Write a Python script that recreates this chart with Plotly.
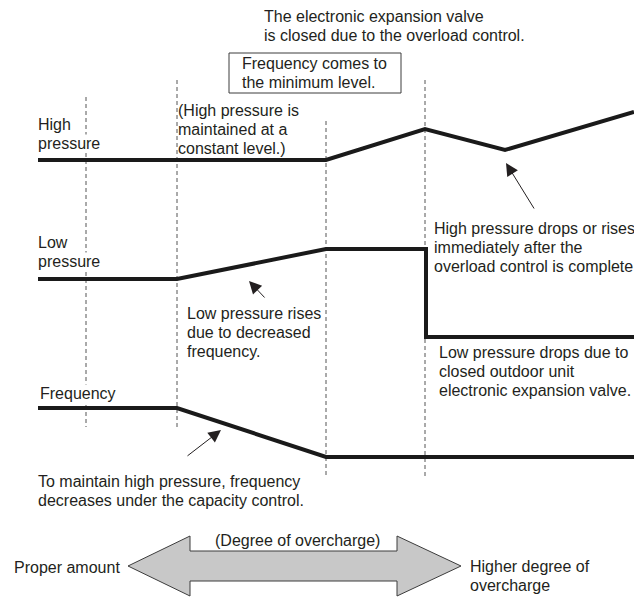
#!/usr/bin/env python3
"""
Overcharge behaviour diagram

Draws high pressure, low pressure and compressor frequency against the
degree of refrigerant overcharge, with the notes from the service manual.
Everything is placed on a 634 x 597 canvas-sized axis (y grows downwards).
"""
import plotly.graph_objects as go

# Curves (canvas units, y downwards)
hp_x = [38, 326, 425, 505, 634]
hp_y = [160, 160, 129, 150, 112]

lp_x = [38, 177, 326, 426, 426, 634]
lp_y = [279, 279, 249, 249, 337, 337]

freq_x = [38, 177, 326, 634]
freq_y = [408, 408, 457, 457]

# Dashed stage markers
stage_x = [86, 177, 326, 425]
stage_top = [97, 80, 121, 80]
stage_bottom = [427, 427, 476, 476]

# Degree-of-overcharge double arrow outline
band_x = [128, 190, 190, 397, 397, 461, 397, 397, 190, 190, 128]
band_y = [566, 536, 551, 551, 536, 566, 596, 581, 581, 596, 566]

# Pointer arrows: tip then tail
pointer_tip_x = [506, 249, 221]
pointer_tip_y = [163, 281, 430]
pointer_tail_x = [535, 266, 186]
pointer_tail_y = [210, 299, 457]

# Box around the "minimum level" note
box_x = [229, 401]
box_y = [53, 93]

# Notes: lines, x, y of first line centre, anchor, white background
notes = [
    (["The electronic expansion valve", "is closed due to the overload control."], 263, 16, "left", False),
    (["Frequency comes to", "the minimum level."], 241, 63, "left", False),
    (["High", "pressure"], 37, 124, "left", True),
    (["(High pressure is", "maintained at a", "constant level.)"], 177, 110, "left", False),
    (["High pressure drops or rises", "immediately after the", "overload control is complete"], 433, 228, "left", False),
    (["Low", "pressure"], 37, 242, "left", True),
    (["Low pressure rises", "due to decreased", "frequency."], 186, 313, "left", False),
    (["Low pressure drops due to", "closed outdoor unit", "electronic expansion valve."], 438, 352, "left", False),
    (["Frequency"], 39, 393, "left", True),
    (["To maintain high pressure, frequency", "decreases under the capacity control."], 37, 481, "left", False),
    (["(Degree of overcharge)"], 297, 540, "center", False),
    (["Proper amount"], 121, 567, "right", False),
    (["Higher degree of", "overcharge"], 469, 566, "left", False),
]
LINE_STEP = 19.3

INK = "#231f20"
W, H = 634, 597

fig = go.Figure()

# dashed stage lines first so labels can sit over them
for x, y0, y1 in zip(stage_x, stage_top, stage_bottom):
    fig.add_trace(go.Scatter(x=[x, x], y=[y0, y1], mode="lines",
                             line=dict(color="#555555", width=1, dash="4px,3px"),
                             hoverinfo="skip"))

for xs, ys in [(hp_x, hp_y), (lp_x, lp_y), (freq_x, freq_y)]:
    fig.add_trace(go.Scatter(x=xs, y=ys, mode="lines",
                             line=dict(color="#1a1a1a", width=4),
                             hoverinfo="skip"))

fig.add_trace(go.Scatter(x=band_x, y=band_y, mode="lines", fill="toself",
                         fillcolor="#c8c8c8",
                         line=dict(color="#3c3c3c", width=1),
                         hoverinfo="skip"))

fig.add_shape(type="rect", x0=box_x[0], x1=box_x[1], y0=box_y[0], y1=box_y[1],
              line=dict(color="#3c3c3c", width=1), fillcolor="white", layer="below")

for lines, x, y, anchor, bg in notes:
    for i, line in enumerate(lines):
        fig.add_annotation(x=x, y=y + i * LINE_STEP, text=line, showarrow=False,
                           xanchor=anchor, yanchor="middle", align="left",
                           bgcolor="white" if bg else "rgba(0,0,0,0)",
                           borderpad=0)

for tx, ty, sx, sy in zip(pointer_tip_x, pointer_tip_y, pointer_tail_x, pointer_tail_y):
    fig.add_annotation(x=tx, y=ty, ax=sx, ay=sy, axref="x", ayref="y",
                       text="", showarrow=True, arrowhead=2, arrowsize=2.5,
                       arrowwidth=1, arrowcolor=INK)

fig.update_layout(
    width=W, height=H,
    margin=dict(l=0, r=0, t=0, b=0),
    paper_bgcolor="white", plot_bgcolor="white",
    showlegend=False,
    font=dict(family="Liberation Sans, Arial, sans-serif", size=16, color=INK),
    xaxis=dict(range=[0, W], visible=False, fixedrange=True),
    yaxis=dict(range=[H, 0], visible=False, fixedrange=True),
)

# the page's default body margin would shift the figure by 8px
fig.write_html("out.html", config={"displayModeBar": False},
               post_script="document.body.style.margin='0';")
